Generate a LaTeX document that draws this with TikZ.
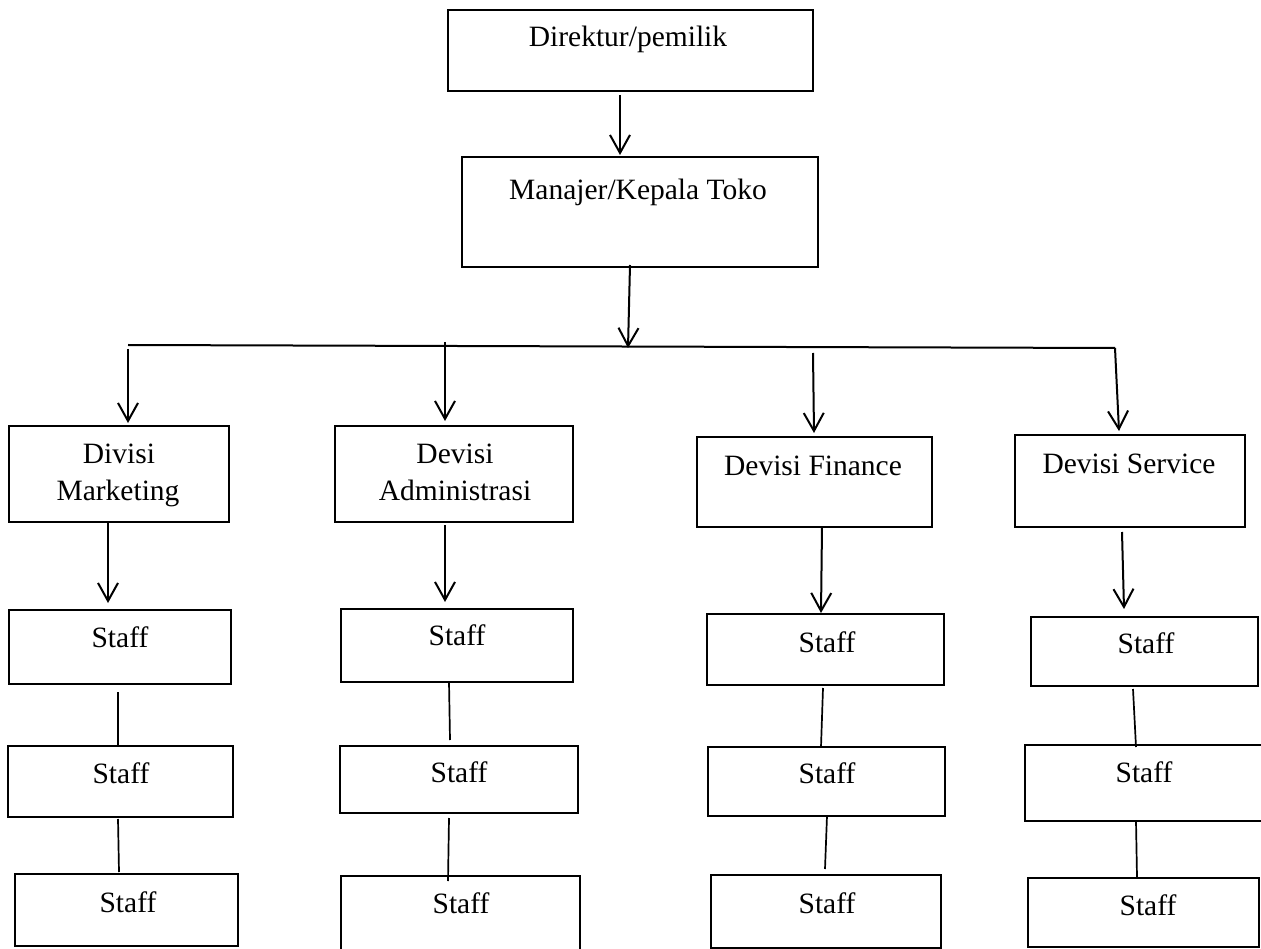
\documentclass[tikz,border=0pt]{standalone}
\usepackage{fontspec}
\setmainfont{Liberation Serif}
\usetikzlibrary{arrows.meta,fit}
\begin{document}
\begin{tikzpicture}[x=1pt,y=-1pt,
  boxst/.style={draw=black,line width=2pt,inner sep=0pt,fill=none},
  txt/.style={anchor=base,inner sep=0pt,font=\fontsize{29.5}{37}\selectfont},
  arr/.style={draw=black,line width=2pt,-{Straight Barb[length=18pt,width=20pt,line width=2pt]}},
  lnk/.style={draw=black,line width=1.7pt}]
\fill[white] (0,0) rectangle (1261,949);
\useasboundingbox (0,0) rectangle (1261,949);
% top boxes
\node[boxst,fit={(448,10) (813,91)}] (dir) {};
\node[txt] (dirT) at (628,47) {Direktur/pemilik};
\node[boxst,fit={(462,157) (818,267)}] (man) {};
\node[txt] (manT) at (638,200) {Manajer/Kepala Toko};
% division boxes
\node[boxst,fit={(9,426) (229,522)}] (mk) {};
\node[txt] (mkT1) at (119,463) {Divisi};
\node[txt] (mkT2) at (118,500) {Marketing};
\node[boxst,fit={(335,426) (573,522)}] (ad) {};
\node[txt] (adT1) at (455,463) {Devisi};
\node[txt] (adT2) at (455,500) {Administrasi};
\node[boxst,fit={(697,437) (932,527)}] (fi) {};
\node[txt] (fiT) at (813,475) {Devisi Finance};
\node[boxst,fit={(1015,435) (1245,527)}] (sv) {};
\node[txt] (svT) at (1129,473) {Devisi Service};
% staff boxes
\node[boxst,fit={(9,610) (231,684)}] (m1) {};
\node[txt] (m1T) at (120,647) {Staff};
\node[boxst,fit={(8,746) (233,817)}] (m2) {};
\node[txt] (m2T) at (121,783) {Staff};
\node[boxst,fit={(15,874) (238,946)}] (m3) {};
\node[txt] (m3T) at (128,912) {Staff};
\node[boxst,fit={(341,609) (573,682)}] (a1) {};
\node[txt] (a1T) at (457,645) {Staff};
\node[boxst,fit={(340,746) (578,813)}] (a2) {};
\node[txt] (a2T) at (459,782) {Staff};
\node[boxst,fit={(341,876) (580,965)}] (a3) {};
\node[txt] (a3T) at (461,913) {Staff};
\node[boxst,fit={(707,614) (944,685)}] (f1) {};
\node[txt] (f1T) at (827,652) {Staff};
\node[boxst,fit={(708,747) (945,816)}] (f2) {};
\node[txt] (f2T) at (827,783) {Staff};
\node[boxst,fit={(711,875) (941,948)}] (f3) {};
\node[txt] (f3T) at (827,913) {Staff};
\node[boxst,fit={(1031,617) (1258,686)}] (s1) {};
\node[txt] (s1T) at (1146,653) {Staff};
\node[boxst,fit={(1025,745) (1275,821)}] (s2) {};
\node[txt] (s2T) at (1144,782) {Staff};
\node[boxst,fit={(1028,878) (1259,947)}] (s3) {};
\node[txt] (s3T) at (1148,915) {Staff};
% connector end points
\coordinate (c1a) at (620,95);   \coordinate (c1b) at (620,155);
\coordinate (c2a) at (630,265);  \coordinate (c2b) at (628,348);
\coordinate (busL) at (128,345); \coordinate (busR) at (1115,348);
\coordinate (dmA) at (128,349);  \coordinate (dmB) at (128,423);
\coordinate (daA) at (445,342);  \coordinate (daB) at (445,421);
\coordinate (dfA) at (813,353);  \coordinate (dfB) at (814,433);
\coordinate (dsA) at (1115,348); \coordinate (dsB) at (1119,431);
\coordinate (smA) at (108,522);  \coordinate (smB) at (108,603);
\coordinate (saA) at (445,525);  \coordinate (saB) at (445,602);
\coordinate (sfA) at (822,527);  \coordinate (sfB) at (821,613);
\coordinate (ssA) at (1122,532); \coordinate (ssB) at (1124,609);
\coordinate (l1a) at (118,692);  \coordinate (l1b) at (118,745);
\coordinate (l2a) at (118,819);  \coordinate (l2b) at (119,872);
\coordinate (l3a) at (449,682);  \coordinate (l3b) at (450,740);
\coordinate (l4a) at (449,818);  \coordinate (l4b) at (448,881);
\coordinate (l5a) at (823,688);  \coordinate (l5b) at (821,747);
\coordinate (l6a) at (827,816);  \coordinate (l6b) at (825,869);
\coordinate (l7a) at (1133,689); \coordinate (l7b) at (1136,747);
\coordinate (l8a) at (1136,821); \coordinate (l8b) at (1137,877);
% connectors
\draw[arr] (c1a) -- (c1b);
\draw[arr] (c2a) -- (c2b);
\draw[lnk,line width=2pt] (busL) -- (busR);
\draw[arr] (dmA) -- (dmB);
\draw[arr] (daA) -- (daB);
\draw[arr] (dfA) -- (dfB);
\draw[arr] (dsA) -- (dsB);
\draw[arr] (smA) -- (smB);
\draw[arr] (saA) -- (saB);
\draw[arr] (sfA) -- (sfB);
\draw[arr] (ssA) -- (ssB);
\draw[lnk] (l1a) -- (l1b);
\draw[lnk] (l2a) -- (l2b);
\draw[lnk] (l3a) -- (l3b);
\draw[lnk] (l4a) -- (l4b);
\draw[lnk] (l5a) -- (l5b);
\draw[lnk] (l6a) -- (l6b);
\draw[lnk] (l7a) -- (l7b);
\draw[lnk] (l8a) -- (l8b);
\end{tikzpicture}
\end{document}
